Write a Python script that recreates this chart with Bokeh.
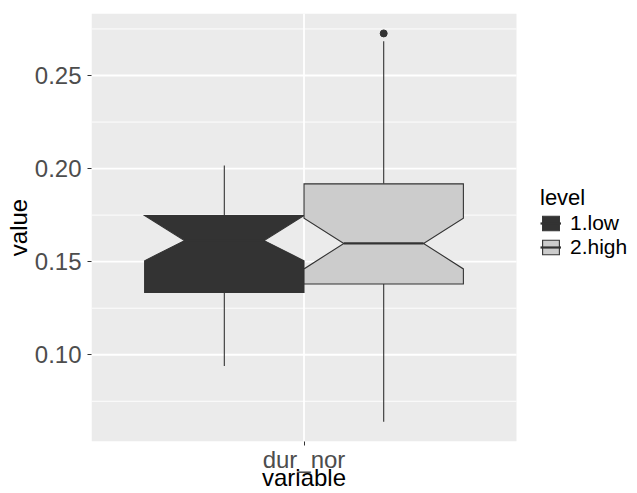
from bokeh.plotting import figure
from bokeh.models import (FixedTicker, Legend, LegendItem, Range1d, LinearAxis,
                          NumeralTickFormatter, BoxAnnotation)
from bokeh.embed import file_html
from bokeh.resources import INLINE

# ---- data ----
category = "dur_nor"
levels = ["1.low", "2.high"]
lower_whisker = [0.094, 0.064]
q1 = [0.1335, 0.138]
median = [0.1613, 0.1598]
q3 = [0.1748, 0.1918]
upper_whisker = [0.2016, 0.2684]
notch_lower = [0.1505, 0.1461]
notch_upper = [0.1748, 0.1733]
outlier_level = ["2.high"]
outlier_value = [0.2726]
y_ticks = [0.10, 0.15, 0.20, 0.25]
y_minor = [0.075, 0.125, 0.175, 0.225, 0.275]

# ---- styling ----
fills = ["#333333", "#CCCCCC"]
edge = "#333333"
FONT = "Liberation Sans"

cat_pos = 1.0
x_lo, x_hi = 0.4, 1.6          # discrete panel range
x_view_hi = 1.9416              # frame continues under the legend
y_lo, y_hi = 0.0534, 0.2833
dodge_width = 0.9
box_w = dodge_width / len(levels)
indent = box_w * 0.25

p = figure(width=637, height=493, output_backend="svg", toolbar_location=None,
           x_range=Range1d(x_lo, x_view_hi), y_range=Range1d(y_lo, y_hi),
           min_border_left=91, min_border_right=0, min_border_top=13,
           min_border_bottom=52)
p.background_fill_color = "white"
p.border_fill_color = "white"
p.outline_line_color = None
p.xgrid.visible = False
p.ygrid.visible = False

# panel background
p.add_layout(BoxAnnotation(left=x_lo, right=x_hi, fill_color="#EBEBEB",
                           fill_alpha=1, line_color=None, level="underlay"))
# grid lines restricted to the panel
p.segment(x0=[x_lo] * len(y_minor), y0=y_minor, x1=[x_hi] * len(y_minor),
          y1=y_minor, line_color="white", line_width=0.9)
p.segment(x0=[x_lo] * len(y_ticks), y0=y_ticks, x1=[x_hi] * len(y_ticks),
          y1=y_ticks, line_color="white", line_width=1.8)
p.segment(x0=[cat_pos], y0=[y_lo], x1=[cat_pos], y1=[y_hi],
          line_color="white", line_width=1.8)

# axes
p.xaxis.ticker = FixedTicker(ticks=[cat_pos])
p.xaxis.major_label_overrides = {cat_pos: category}
p.yaxis.ticker = FixedTicker(ticks=y_ticks, minor_ticks=[])
p.yaxis.formatter = NumeralTickFormatter(format="0.00")
title_axis = LinearAxis(ticker=FixedTicker(ticks=[cat_pos]),
                        major_label_overrides={cat_pos: "variable"})
p.add_layout(title_axis, "below")
for ax in (p.xaxis[0], p.yaxis[0], title_axis):
    ax.axis_line_color = None
    ax.major_tick_line_color = "#333333"
    ax.major_tick_line_width = 1
    ax.major_tick_out = 4
    ax.major_tick_in = 0
    ax.minor_tick_line_color = None
    ax.major_label_text_font = FONT
    ax.major_label_text_font_size = "24px"
    ax.major_label_text_color = "#4D4D4D"
    ax.axis_label_text_font = FONT
    ax.axis_label_text_font_size = "24px"
    ax.axis_label_text_font_style = "normal"
    ax.axis_label_text_color = "black"
title_axis.major_tick_line_color = None
title_axis.major_tick_out = 0
title_axis.major_label_text_color = "black"
title_axis.major_label_standoff = -12
p.xaxis[0].major_label_standoff = 0
p.yaxis.major_label_standoff = 6
p.yaxis.axis_label = "value"
p.yaxis.axis_label_standoff = 0

legend_items = []
for i, lev in enumerate(levels):
    c = cat_pos - dodge_width / 2 + box_w * (i + 0.5)
    xmin, xmax = c - box_w / 2, c + box_w / 2
    p.segment(x0=[c, c], y0=[q3[i], lower_whisker[i]],
              x1=[c, c], y1=[upper_whisker[i], q1[i]],
              line_color=edge, line_width=1.1)
    xs = [xmin, xmin, xmin + indent, xmin, xmin, xmax, xmax, xmax - indent, xmax, xmax]
    ys = [q3[i], notch_upper[i], median[i], notch_lower[i], q1[i],
          q1[i], notch_lower[i], median[i], notch_upper[i], q3[i]]
    box = p.patch(xs, ys, fill_color=fills[i], line_color=edge, line_width=1.1,
                  line_join="miter")
    med = p.segment(x0=[xmin + indent], y0=[median[i]], x1=[xmax - indent],
                    y1=[median[i]], line_color=edge, line_width=2.2)
    ox = [c for lv in outlier_level if lv == lev]
    oy = [v for lv, v in zip(outlier_level, outlier_value) if lv == lev]
    if ox:
        p.scatter(ox, oy, size=7, color=edge)
    legend_items.append(LegendItem(label=lev, renderers=[box, med]))

legend = Legend(items=legend_items, location=(445, 178), title="level",
                title_text_font=FONT, title_text_font_size="22px",
                title_text_font_style="normal", title_text_color="black",
                label_text_font=FONT, label_text_font_size="21px",
                label_text_color="black", glyph_width=21, glyph_height=18,
                label_standoff=9, spacing=0, padding=4, margin=0,
                title_standoff=0, background_fill_alpha=0,
                border_line_alpha=0)
p.add_layout(legend)

open("out.html", "w").write(file_html(p, INLINE))
